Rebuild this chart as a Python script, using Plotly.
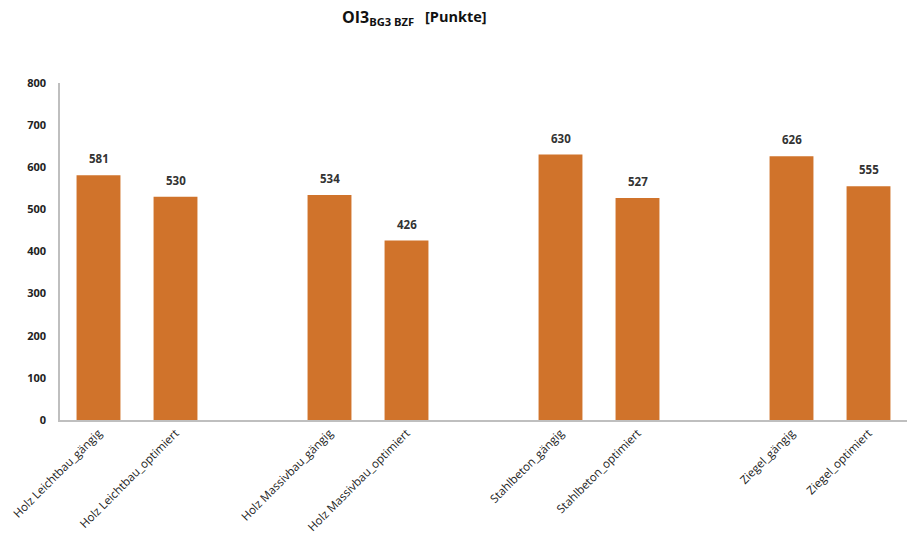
import plotly.graph_objects as go

# Construction variants, with empty spacer slots between material groups
categories = [
    "Holz Leichtbau_gängig", "Holz Leichtbau_optimiert", " ",
    "Holz Massivbau_gängig", "Holz Massivbau_optimiert", "  ",
    "Stahlbeton_gängig", "Stahlbeton_optimiert", "   ",
    "Ziegel_gängig", "Ziegel_optimiert",
]
values = [581, 530, None, 534, 426, None, 630, 527, None, 626, 555]
y_ticks = [0, 100, 200, 300, 400, 500, 600, 700, 800]

FONT = "Open Sans"
BAR = "#D0732B"
AXIS = "#BFBFBF"

fig = go.Figure(
    go.Bar(
        x=categories,
        y=values,
        marker=dict(color=BAR, line=dict(width=0)),
        hoverinfo="x+y",
    )
)

# value labels above each bar
for cat, val in zip(categories, values):
    if val is None:
        continue
    fig.add_annotation(
        x=cat, y=val, xref="x", yref="y",
        text=f"<b>{val}</b>",
        showarrow=False,
        yanchor="bottom",
        yshift=7,
        font=dict(family=FONT, size=11.5, color="#333333"),
    )

# chart title: indicator name with subscript, unit to the right
fig.add_annotation(
    xref="paper", yref="paper", x=0.375, y=1.0, yshift=66,
    xanchor="center", yanchor="middle",
    text="<b>OI3<sub>BG3 BZF</sub></b>",
    showarrow=False,
    font=dict(family=FONT, size=16, color="#111111"),
)
fig.add_annotation(
    xref="paper", yref="paper", x=0.428, y=1.0, yshift=67,
    xanchor="left", yanchor="middle",
    text="<b>[Punkte]</b>",
    showarrow=False,
    font=dict(family=FONT, size=14.5, color="#111111"),
)

fig.update_layout(
    width=908,
    height=541,
    margin=dict(l=60, r=1, t=83, b=121),
    paper_bgcolor="white",
    plot_bgcolor="white",
    showlegend=False,
    bargap=0.43,
)

fig.update_xaxes(
    type="category",
    categoryorder="array",
    categoryarray=categories,
    tickvals=[c for c in categories if c.strip()],
    tickangle=-45,
    tickfont=dict(family=FONT, size=11.5, color="#222222"),
    showline=True,
    linecolor=AXIS,
    linewidth=2,
    showgrid=False,
    ticks="",
)

fig.update_yaxes(
    range=[0, 800],
    tickvals=y_ticks,
    ticktext=[f"<b>{t}</b>" for t in y_ticks],
    tickfont=dict(family=FONT, size=11, color="#222222"),
    showline=True,
    linecolor=AXIS,
    linewidth=1.5,
    showgrid=False,
    zeroline=False,
    ticks="",
    ticklabelstandoff=10,
)

fig.write_html("out.html")
